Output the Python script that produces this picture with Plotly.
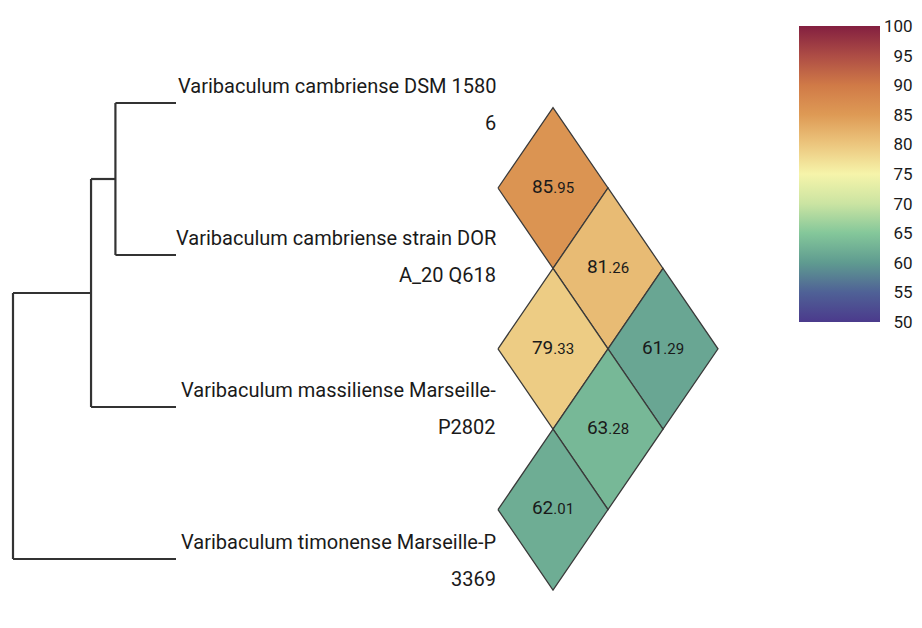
import plotly.graph_objects as go
from plotly.colors import sample_colorscale

# ---------------- data ----------------
taxa_line1 = [
    "Varibaculum cambriense DSM 1580",
    "Varibaculum cambriense strain DOR",
    "Varibaculum massiliense Marseille-",
    "Varibaculum timonense Marseille-P",
]
taxa_line2 = ["6", "A_20 Q618", "P2802", "3369"]
pair_i = [0, 0, 1, 0, 1, 2]
pair_j = [1, 2, 2, 3, 3, 3]
ani_values = [85.95, 81.26, 79.33, 61.29, 63.28, 62.01]
cbar_ticks = [50, 55, 60, 65, 70, 75, 80, 85, 90, 95, 100]

colorscale = [
    [0.00, "#4b3a8c"],
    [0.10, "#4f6196"],
    [0.20, "#5f9b90"],
    [0.30, "#84c79a"],
    [0.40, "#cbe4a2"],
    [0.50, "#f6f4aa"],
    [0.60, "#ecc67e"],
    [0.70, "#de9a55"],
    [0.80, "#d07a47"],
    [0.90, "#ad4c45"],
    [1.00, "#832040"],
]
VMIN, VMAX = 50, 100

# ---------------- layout constants (pixels) ----------------
W, H = 922, 628
FONT = "Roboto, Liberation Sans, sans-serif"
ROOT_PX, LEAF_PX = 13, 176
LEAF_TOP, LEAF_STEP = 103, 152
D_X0, D_XSTEP = 553, 55
D_Y0, D_YSTEP = 188, 80.4

n = len(taxa_line1)

# ---------------- UPGMA on distance = 100 - ANI ----------------
dist = {}
for a, b, v in zip(pair_i, pair_j, ani_values):
    dist[(a, b)] = dist[(b, a)] = 100 - v

clusters = {k: {"members": [k], "y": float(k), "h": 0.0} for k in range(n)}
segs_x, segs_y = [], []
next_id = n
def cdist(A, B):
    s = [dist[(a, b)] for a in clusters[A]["members"] for b in clusters[B]["members"]]
    return sum(s) / len(s)
while len(clusters) > 1:
    keys = list(clusters)
    best = None
    for ii in range(len(keys)):
        for jj in range(ii + 1, len(keys)):
            d = cdist(keys[ii], keys[jj])
            if best is None or d < best[0]:
                best = (d, keys[ii], keys[jj])
    d, A, B = best
    ca, cb = clusters.pop(A), clusters.pop(B)
    for c in (ca, cb):
        segs_x += [c["h"], d, None]
        segs_y += [c["y"], c["y"], None]
    segs_x += [d, d, None]
    segs_y += [ca["y"], cb["y"], None]
    clusters[next_id] = {"members": ca["members"] + cb["members"],
                         "y": (ca["y"] + cb["y"]) / 2, "h": d}
    next_id += 1
root_h = list(clusters.values())[0]["h"]

upx = (LEAF_PX - ROOT_PX) / root_h
dx_dom = (0, 200)
dx_range = [root_h + (ROOT_PX - dx_dom[0]) / upx, -(dx_dom[1] - LEAF_PX) / upx]
dy_dom = (40, 612)
dy_range = [(dy_dom[1] - LEAF_TOP) / LEAF_STEP, (dy_dom[0] - LEAF_TOP) / LEAF_STEP]

hx_dom = (470, 770)
hx_range = [(hx_dom[0] - D_X0) / D_XSTEP, (hx_dom[1] - D_X0) / D_XSTEP]
hy_dom = (80, 620)
hy_range = [1 + (hy_dom[1] - D_Y0) / D_YSTEP, 1 + (hy_dom[0] - D_Y0) / D_YSTEP]

def px_dom_x(d):
    return [d[0] / W, d[1] / W]
def px_dom_y(d):
    return [1 - d[1] / H, 1 - d[0] / H]

fig = go.Figure()

fig.add_trace(go.Scatter(x=segs_x, y=segs_y, mode="lines",
                         line=dict(color="#333333", width=2.2),
                         xaxis="x", yaxis="y", hoverinfo="skip", showlegend=False))

cx, cy, texts = [], [], []
for a, b, v in zip(pair_i, pair_j, ani_values):
    c = b - a - 1
    r = a + b
    col = sample_colorscale(colorscale, [(v - VMIN) / (VMAX - VMIN)])[0]
    fig.add_trace(go.Scatter(
        x=[c - 1, c, c + 1, c, c - 1], y=[r, r - 1, r, r + 1, r],
        mode="lines", fill="toself", fillcolor=col,
        line=dict(color="#3a3a3a", width=1.3),
        xaxis="x2", yaxis="y2", hoverinfo="skip", showlegend=False))
    cx.append(c)
    cy.append(r)
    s = f"{v:.2f}"
    whole, frac = s.split(".")
    texts.append(f"{whole}<span style='font-size:15px'>.{frac}</span>")

tick_text = ["\u2007" * (3 - len(str(t))) + str(t) for t in cbar_ticks]

fig.add_trace(go.Scatter(
    x=cx, y=cy, mode="markers+text", text=texts,
    textposition="middle center",
    textfont=dict(family=FONT, size=19, color="#1a1a1a"),
    marker=dict(size=0.1, opacity=0, color=ani_values, cmin=VMIN, cmax=VMAX,
                colorscale=colorscale, showscale=True,
                colorbar=dict(x=799 / W, xanchor="left", xpad=0,
                              y=1 - 174 / H, yanchor="middle", ypad=0,
                              len=296, lenmode="pixels",
                              thickness=81, thicknessmode="pixels",
                              tickvals=cbar_ticks, ticktext=tick_text,
                              ticks="", outlinewidth=0,
                              tickfont=dict(family=FONT, size=17, color="#1a1a1a"))),
    xaxis="x2", yaxis="y2", hovertemplate="%{marker.color}<extra></extra>",
    showlegend=False))

annotations = []
for i in range(n):
    for txt, shift in ((taxa_line1[i], 17), (taxa_line2[i], -20)):
        annotations.append(dict(text=txt, xref="paper", x=498 / W, xanchor="right",
                                yref="y", y=i, yanchor="middle", yshift=shift,
                                showarrow=False,
                                font=dict(family=FONT, size=20, color="#1a1a1a")))

axis_off = dict(visible=False, showgrid=False, zeroline=False, fixedrange=True)
fig.update_layout(
    width=W, height=H, margin=dict(l=0, r=0, t=0, b=0),
    paper_bgcolor="white", plot_bgcolor="rgba(0,0,0,0)",
    xaxis=dict(domain=px_dom_x(dx_dom), range=dx_range, **axis_off),
    yaxis=dict(domain=px_dom_y(dy_dom), range=dy_range, **axis_off),
    xaxis2=dict(domain=px_dom_x(hx_dom), range=hx_range, anchor="y2", **axis_off),
    yaxis2=dict(domain=px_dom_y(hy_dom), range=hy_range, anchor="x2", **axis_off),
    annotations=annotations,
    font=dict(family=FONT),
)

fig.write_html("out.html", config={"displayModeBar": False},
               post_script="document.body.style.margin='0';document.body.style.overflow='hidden';")
